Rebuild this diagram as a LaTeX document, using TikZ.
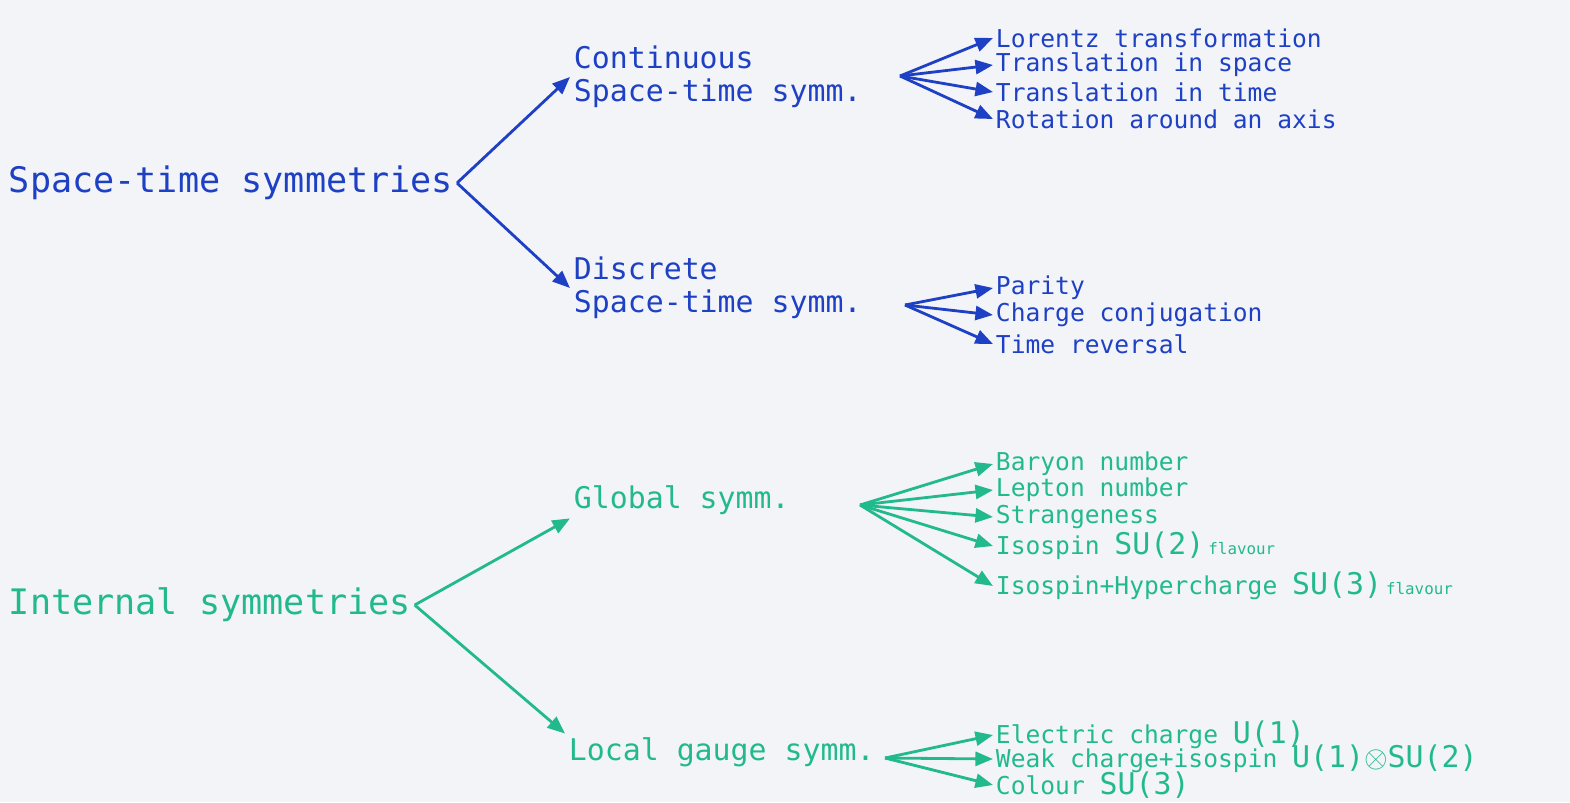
\documentclass[tikz,border=0pt]{standalone}
\usepackage{fontspec}
\newfontfamily\handfont{DejaVu Sans Mono}
\usetikzlibrary{arrows.meta}
\definecolor{paper}{RGB}{243,244,247}
\definecolor{inkblue}{RGB}{30,64,196}
\definecolor{inkgreen}{RGB}{34,186,140}
\newcommand{\bigsym}[1]{{\fontsize{17}{19}\selectfont #1}}
\newcommand{\smallnote}[1]{{\fontsize{9}{10}\selectfont #1}}

\begin{document}
\begin{tikzpicture}[x=0.02cm, y=-0.02cm,
    top/.style={font=\handfont\fontsize{20}{23}\selectfont, anchor=west, inner sep=2pt},
    mid/.style={font=\handfont\fontsize{17}{19}\selectfont, anchor=west, align=left, inner sep=2pt},
    leaf/.style={font=\handfont\fontsize{14}{16}\selectfont, anchor=west, inner sep=1.5pt},
    arr/.style={line width=1.6pt, -{Triangle[length=10pt,width=8pt]}}]
            \fill[paper] (0,0) rectangle (1570,802);
            \useasboundingbox (0,0) rectangle (1570,802);

            \begin{scope}[inkblue]
            \node[top] (spt) at (5,183) {Space-time symmetries};
            \node[mid] (cont) at (570,77) {Continuous\\Space-time symm.};
            \node[mid] (disc) at (570,288) {Discrete\\Space-time symm.};
            \draw[arr] (spt.east) -- (cont.west);
            \draw[arr] (spt.east) -- (disc.west);

            \coordinate (cf) at (900,76);
            \node[leaf] (lor) at (993,38) {Lorentz transformation};
            \node[leaf] (tsp) at (993,65) {Translation in space};
            \node[leaf] (ttm) at (993,92) {Translation in time};
            \node[leaf] (rot) at (993,119) {Rotation around an axis};
            \foreach \n in {lor,tsp,ttm,rot}
                \draw[arr] (cf) -- (\n.west);

            \coordinate (df) at (905,305);
            \node[leaf] (par) at (993,288) {Parity};
            \node[leaf] (cc) at (993,315) {Charge conjugation};
            \node[leaf] (tr) at (993,344) {Time reversal};
            \foreach \n in {par,cc,tr}
                \draw[arr] (df) -- (\n.west);
            \end{scope}

            \begin{scope}[inkgreen]
            \node[top] (ints) at (5,605) {Internal symmetries};
            \node[mid] (glob) at (570,500) {Global symm.};
            \node[mid] (loc) at (565,752) {Local gauge symm.};
            \draw[arr] (ints.east) -- (glob.south west);
            \draw[arr] (ints.east) -- (loc.north west);

            \coordinate (gf) at (860,505);
            \node[leaf] (bar) at (993,464) {Baryon number};
            \node[leaf] (lep) at (993,490) {Lepton number};
            \node[leaf] (str) at (993,517) {Strangeness};
            \node[leaf] (iso) at (993,546) {Isospin \bigsym{SU(2)}\,\smallnote{flavour}};
            \node[leaf] (ihc) at (993,586) {Isospin+Hypercharge \bigsym{SU(3)}\,\smallnote{flavour}};
            \foreach \n in {bar,lep,str,iso,ihc}
                \draw[arr] (gf) -- (\n.west);

            \coordinate (lf) at (885,758);
            \node[leaf] (el) at (993,735) {Electric charge \bigsym{U(1)}};
            \node[leaf] (wk) at (993,759) {Weak charge+isospin \bigsym{U(1)$\otimes$SU(2)}};
            \node[leaf] (col) at (993,785) {Colour \bigsym{SU(3)}};
            \foreach \n in {el,wk,col}
                \draw[arr] (lf) -- (\n.west);
            \end{scope}
        \end{tikzpicture}
\end{document}
